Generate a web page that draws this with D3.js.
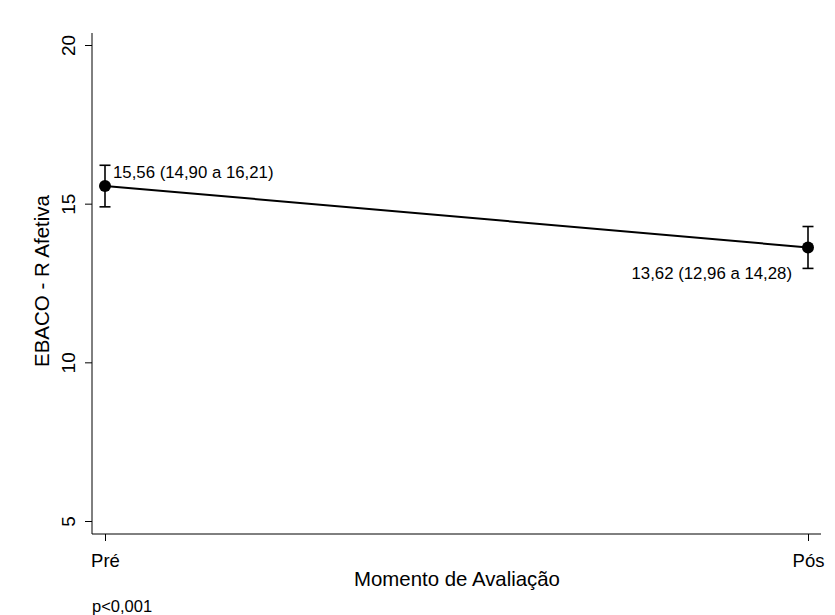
<!DOCTYPE html>
<html>
<head>
<meta charset="utf-8">
<script src="https://cdn.jsdelivr.net/npm/d3@7"></script>
<style>
  body { margin: 0; background: #fff; }
  text { font-family: "Liberation Sans", Arial, sans-serif; fill: #000; }
</style>
</head>
<body>
<div id="chart"></div>
<script>
// data
const moments = ["Pré", "Pós"];
const means = [15.56, 13.62];
const lower = [14.90, 12.96];
const upper = [16.21, 14.28];
const labels = ["15,56 (14,90 a 16,21)", "13,62 (12,96 a 14,28)"];
const yTicks = [5, 10, 15, 20];

const width = 835, height = 615;

const svg = d3.select("#chart").append("svg")
  .attr("width", width)
  .attr("height", height);

const x = d3.scalePoint().domain(moments).range([105, 808]);
const y = d3.scaleLinear().domain([5, 20]).range([521, 45]);

const axisX0 = 92, axisY0 = 534;

// y axis
const yAxis = svg.append("g")
  .attr("transform", `translate(${axisX0},0)`)
  .call(d3.axisLeft(y).tickValues(yTicks).tickSize(7).tickSizeOuter(0).tickFormat(d3.format("d")));
yAxis.select(".domain").attr("d", `M0,33V${axisY0}`).attr("stroke", "#000");
yAxis.selectAll(".tick line").attr("stroke", "#000");
yAxis.selectAll(".tick text")
  .attr("font-size", 19)
  .attr("text-anchor", "middle")
  .attr("x", null)
  .attr("y", 0)
  .attr("dy", null)
  .attr("transform", "translate(-17,0) rotate(-90)");

// x axis
const xAxis = svg.append("g")
  .attr("transform", `translate(0,${axisY0})`)
  .call(d3.axisBottom(x).tickSize(7).tickSizeOuter(0));
xAxis.select(".domain").attr("d", `M${axisX0},0H821`).attr("stroke", "#000");
xAxis.selectAll(".tick line").attr("stroke", "#000");
xAxis.selectAll(".tick text").attr("font-size", 18.5).attr("y", 33).attr("dy", null);

// titles
svg.append("text")
  .attr("transform", "translate(49,281) rotate(-90)")
  .attr("text-anchor", "middle")
  .attr("font-size", 20.5)
  .text("EBACO - R Afetiva");

svg.append("text")
  .attr("x", 457).attr("y", 586)
  .attr("text-anchor", "middle")
  .attr("font-size", 20.4)
  .text("Momento de Avaliação");

svg.append("text")
  .attr("x", 92).attr("y", 612)
  .attr("font-size", 16.5)
  .text("p<0,001");

// line connecting means
const line = d3.line().x((d, i) => x(moments[i])).y(d => y(d));
svg.append("path")
  .datum(means)
  .attr("d", line)
  .attr("fill", "none")
  .attr("stroke", "#000")
  .attr("stroke-width", 2);

// error bars
const g = svg.selectAll("g.pt").data(moments).enter().append("g").attr("class", "pt");
g.append("line")
  .attr("x1", d => x(d)).attr("x2", d => x(d))
  .attr("y1", (d, i) => y(lower[i])).attr("y2", (d, i) => y(upper[i]))
  .attr("stroke", "#000").attr("stroke-width", 1.6);
g.append("line")
  .attr("x1", d => x(d) - 5.5).attr("x2", d => x(d) + 5.5)
  .attr("y1", (d, i) => y(lower[i])).attr("y2", (d, i) => y(lower[i]))
  .attr("stroke", "#000").attr("stroke-width", 1.6);
g.append("line")
  .attr("x1", d => x(d) - 5.5).attr("x2", d => x(d) + 5.5)
  .attr("y1", (d, i) => y(upper[i])).attr("y2", (d, i) => y(upper[i]))
  .attr("stroke", "#000").attr("stroke-width", 1.6);
g.append("circle")
  .attr("cx", d => x(d)).attr("cy", (d, i) => y(means[i]))
  .attr("r", 6).attr("fill", "#000");

// value labels
svg.append("text")
  .attr("x", x(moments[0]) + 8).attr("y", y(means[0]) - 8)
  .attr("font-size", 16.8)
  .text(labels[0]);
svg.append("text")
  .attr("x", x(moments[1]) - 16).attr("y", y(means[1]) + 32)
  .attr("text-anchor", "end")
  .attr("font-size", 16.8)
  .text(labels[1]);
</script>
</body>
</html>
